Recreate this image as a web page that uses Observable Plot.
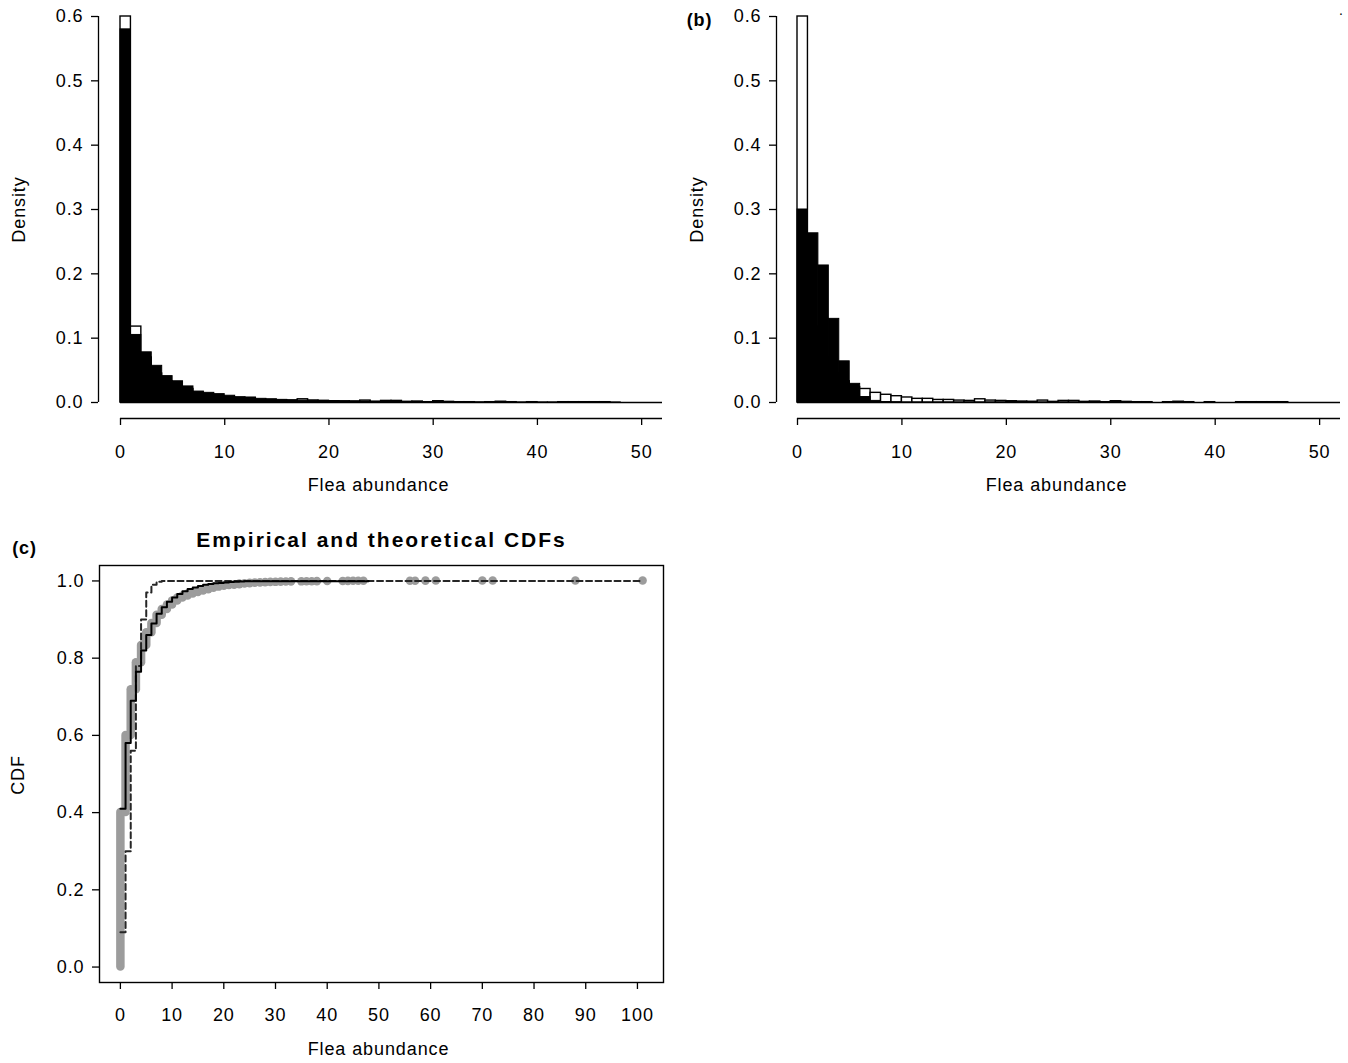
<!DOCTYPE html>
<html>
<head>
<meta charset="utf-8">
<script src="https://cdn.jsdelivr.net/npm/d3@7"></script>
<script src="https://cdn.jsdelivr.net/npm/@observablehq/plot@0.6"></script>
<style>
  html, body { margin: 0; padding: 0; background: #fff; }
  #root { position: relative; width: 1348px; height: 1063px; overflow: hidden; background: #fff; }
  #root svg { position: absolute; }
  #root svg text { letter-spacing: 0.9px; }
  #root g[font-size="21"] text { letter-spacing: 2px; }
</style>
</head>
<body>
<div id="root"></div>
<script>
// ---------- data ----------
const binEdges = [0,1,2,3,4,5,6,7,8,9,10,11,12,13,14,15,16,17,18,19,20,21,22,23,24,25,26,27,28,29,30,31,32,33,34,35,36,37,38,39,40,41,42,43,44,45,46,47,48,49,50,51,52];

// empirical density (white bars, same in both panels)
const empiricalDensity = [0.600,0.118,0.070,0.045,0.033,0.024,0.021,0.015,0.012,0.0098,
  0.0078,0.0057,0.0057,0.0040,0.0040,0.0030,0.0025,0.0050,0.0030,0.0025,
  0.0020,0.0015,0.0012,0.0030,0.0010,0.0025,0.0025,0.0010,0.0015,0.0005,
  0.0020,0.0010,0.0005,0.0005,0,0.0005,0.0012,0.0005,0,0.0005,
  0,0,0.0005,0.0005,0.0005,0.0005,0.0005,0,0,0,
  0,0];

// theoretical negative binomial density (panel a, black bars)
const negbinDensity = [0.580,0.105,0.078,0.057,0.041,0.033,0.025,0.017,0.015,0.013,
  0.0105,0.0083,0.0078,0.0057,0.0050,0.0041,0.0036,0.0030,0.0028,0.0025,
  0.0022,0.0020,0.0018,0.0015,0.0013,0.0011,0.0010,0.0009,0.0008,0.0007,
  0.0006,0.0005,0.0005,0.0004,0.0004,0.0003,0.0003,0.0003,0.0002,0.0002,
  0.0002,0.0002,0.0001,0.0001,0.0001,0.0001,0.0001,0.0001,0,0,
  0,0];

// theoretical Poisson density (panel b, black bars)
const poissonDensity = [0.300,0.263,0.213,0.130,0.064,0.029,0.0085,0.0025,0.0007,0.0002,
  0,0,0,0,0,0,0,0,0,0,
  0,0,0,0,0,0,0,0,0,0,
  0,0,0,0,0,0,0,0,0,0,
  0,0,0,0,0,0,0,0,0,0,
  0,0];

const densityTicks = [0, 0.1, 0.2, 0.3, 0.4, 0.5, 0.6];
const abundanceTicksHist = [0, 10, 20, 30, 40, 50];
const abundanceTicksCdf = [0, 10, 20, 30, 40, 50, 60, 70, 80, 90, 100];
const cdfTicks = [0, 0.2, 0.4, 0.6, 0.8, 1.0];

// empirical CDF (grey points)
const ecdfX = [0,1,2,3,4,5,6,7,8,9,10,11,12,13,14,15,16,17,18,19,20,21,22,23,24,25,26,27,28,29,30,31,32,33,35,36,37,38,40,43,44,45,46,47,56,57,59,61,70,72,88,101];
const ecdfF = [0.40,0.60,0.718,0.788,0.833,0.866,0.890,0.911,0.926,0.938,
  0.948,0.956,0.961,0.966,0.970,0.974,0.977,0.981,0.984,0.986,
  0.988,0.989,0.990,0.992,0.993,0.994,0.995,0.9955,0.996,0.9963,
  0.9968,0.997,0.9973,0.9976,0.9978,0.998,0.9982,0.9984,0.9986,0.9988,
  0.999,0.9991,0.9992,0.9993,0.9994,0.9995,0.9996,0.9997,0.9998,0.9999,
  0.99995,1.0];

// theoretical negative binomial CDF (solid)
const negbinCdfX = [0,1,2,3,4,5,6,7,8,9,10,11,12,13,14,15,16,17,18,19,20,21,22,23,24,25,48];
const negbinCdfF = [0.41,0.58,0.69,0.765,0.82,0.86,0.89,0.915,0.932,0.946,
  0.957,0.966,0.973,0.979,0.983,0.987,0.990,0.992,0.994,0.995,
  0.996,0.997,0.998,0.9985,0.999,0.9995,1.0];

// theoretical Poisson CDF (dashed)
const poissonCdfX = [0,1,2,3,4,5,6,7,8,101];
const poissonCdfF = [0.09,0.30,0.56,0.78,0.90,0.97,0.99,0.998,1.0,1.0];

// ---------- helpers ----------
const FONT = "'Liberation Sans', Arial, Helvetica, sans-serif";
const bins = vals => vals.map((d, i) => ({x1: binEdges[i], x2: binEdges[i + 1], d}));
const root = document.getElementById("root");
function place(svg, left, top) {
  svg.style.left = left + "px";
  svg.style.top = top + "px";
  root.appendChild(svg);
}
const centered = {textAnchor: "middle", lineAnchor: "middle"};

function histPanel(theo, {width, marginLeft, marginRight, insetLeft, tag}) {
  const marks = [
    Plot.rect(bins(empiricalDensity), {x1: "x1", x2: "x2", y1: 0, y2: "d", fill: "white", stroke: "black", strokeWidth: 1.4}),
    Plot.rect(bins(theo), {x1: "x1", x2: "x2", y1: 0, y2: "d", fill: "black", stroke: "black", strokeWidth: 1}),
    Plot.ruleY([0], {x1: 0, x2: 52, stroke: "black", strokeWidth: 1.4}),
    Plot.ruleX([0], {y1: 0, y2: 0.6, dx: -insetLeft, stroke: "black", strokeWidth: 1.3}),
    Plot.ruleY([0], {x1: 0, x2: 52, dy: 16, stroke: "black", strokeWidth: 1.3}),
    Plot.axisY(densityTicks, {tickSize: 7, tickPadding: 8, tickFormat: d3.format(".1f"), label: null, strokeWidth: 1.3}),
    Plot.axisX(abundanceTicksHist, {tickSize: 7, tickPadding: 20, label: null, strokeWidth: 1.3}),
    Plot.text(["Density"], {frameAnchor: "left", rotate: -90, dx: -79, dy: -8, ...centered}),
    Plot.text(["Flea abundance"], {frameAnchor: "bottom", dx: -2, dy: 67, ...centered})
  ];
  if (tag) {
    marks.push(Plot.text([tag], {frameAnchor: "top-left", dx: -77, dy: 4, fontWeight: "bold", fontSize: 18, ...centered}));
    marks.push(Plot.text(["."], {frameAnchor: "top-right", dx: 1, dy: -6, fontSize: 14, ...centered}));
  }
  return Plot.plot({
    width, height: 500,
    marginLeft, marginRight, marginTop: 16, marginBottom: 82,
    x: {domain: [0, 52], insetLeft},
    y: {domain: [0, 0.6], insetBottom: 16},
    style: {fontFamily: FONT, fontSize: "18px", color: "black", background: "transparent", overflow: "visible"},
    marks
  });
}

// ---------- panel (a) ----------
place(histPanel(negbinDensity, {width: 674, marginLeft: 98, marginRight: 12, insetLeft: 22, tag: null}), 0, 0);

// ---------- panel (b) ----------
place(histPanel(poissonDensity, {width: 672, marginLeft: 100, marginRight: 8, insetLeft: 21, tag: "(b)"}), 676, 0);

// ---------- panel (c) ----------
const ecdfRows = ecdfX.map((x, i) => ({x, lo: i ? ecdfF[i - 1] : 0, hi: ecdfF[i]}));
const nbRows = negbinCdfX.map((x, i) => ({x, F: negbinCdfF[i]}));
const poRows = poissonCdfX.map((x, i) => ({x, F: poissonCdfF[i]}));

const pc = Plot.plot({
  width: 674, height: 563,
  marginLeft: 99, marginRight: 11, marginTop: 65, marginBottom: 81,
  x: {domain: [-4.04, 105.04]},
  y: {domain: [-0.04, 1.04]},
  style: {fontFamily: FONT, fontSize: "18px", color: "black", background: "transparent", overflow: "visible"},
  marks: [
    Plot.ruleX(ecdfRows, {x: "x", y1: "lo", y2: "hi", stroke: "#9c9c9c", strokeWidth: 8.5, strokeLinecap: "round"}),
    Plot.line(poRows, {x: "x", y: "F", curve: "step-after", stroke: "#262626", strokeWidth: 2, strokeDasharray: "6,3.5"}),
    Plot.line(nbRows, {x: "x", y: "F", curve: "step-after", stroke: "black", strokeWidth: 2}),
    Plot.frame({stroke: "black", strokeWidth: 1.4}),
    Plot.axisY(cdfTicks, {tickSize: 7, tickPadding: 8, tickFormat: d3.format(".1f"), label: null, strokeWidth: 1.3}),
    Plot.axisX(abundanceTicksCdf, {tickSize: 7, tickPadding: 19, label: null, strokeWidth: 1.3}),
    Plot.text(["CDF"], {frameAnchor: "left", rotate: -90, dx: -81, dy: 1, ...centered}),
    Plot.text(["Flea abundance"], {frameAnchor: "bottom", dx: -3, dy: 67, ...centered}),
    Plot.text(["Empirical and theoretical CDFs"], {frameAnchor: "top", dy: -25, fontWeight: "bold", fontSize: 21, ...centered}),
    Plot.text(["(c)"], {frameAnchor: "top-left", dx: -75, dy: -17, fontWeight: "bold", fontSize: 18, ...centered})
  ]
});
place(pc, 0, 500);
</script>
</body>
</html>
